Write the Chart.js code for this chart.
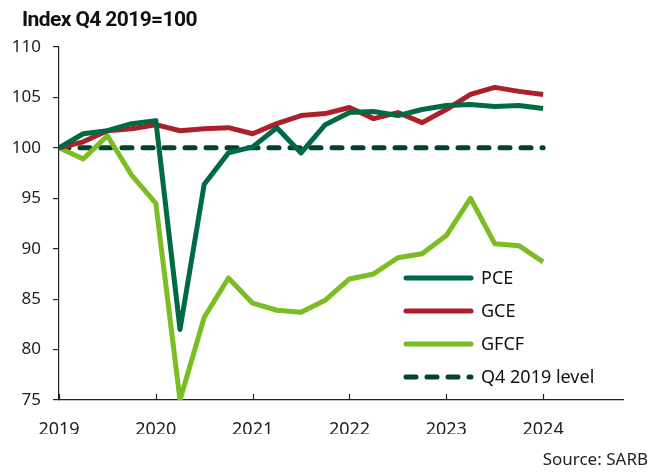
<!DOCTYPE html>
<html>
<head>
<meta charset="utf-8">
<script src="https://cdn.jsdelivr.net/npm/chart.js@4.4.1/dist/chart.umd.min.js"></script>
<style>
  body { margin: 0; background: #fff; }
  #wrap { width: 651px; height: 475px; position: relative; }
</style>
</head>
<body>
<div id="wrap"><canvas id="gdpChart"></canvas></div>
<script>
// quarters, Q4 2019 .. Q4 2024
var quarters = ["2019Q4", "2020Q1", "2020Q2", "2020Q3", "2020Q4", "2021Q1", "2021Q2", "2021Q3", "2021Q4",
    "2022Q1", "2022Q2", "2022Q3", "2022Q4", "2023Q1", "2023Q2", "2023Q3", "2023Q4",
    "2024Q1", "2024Q2", "2024Q3", "2024Q4"];
var yearLabels = ["2019", "2020", "2021", "2022", "2023", "2024"];

var pce  = [100, 101.4, 101.7, 102.4, 102.7, 82.0, 96.4, 99.5, 100.1, 102.0, 99.5, 102.3, 103.5, 103.6, 103.2, 103.8, 104.2, 104.3, 104.1, 104.2, 103.9];
var gce  = [100, 100.6, 101.7, 101.9, 102.3, 101.7, 101.9, 102.0, 101.4, 102.4, 103.2, 103.4, 104.0, 102.9, 103.5, 102.5, 103.8, 105.3, 106.0, 105.6, 105.3];
var gfcf = [100, 98.9, 101.2, 97.3, 94.5, 75.0, 83.2, 87.1, 84.6, 83.9, 83.7, 84.9, 87.0, 87.5, 89.1, 89.5, 91.3, 95.0, 90.5, 90.3, 88.7];
var baseLevel = [100, 100, 100, 100, 100, 100, 100, 100, 100, 100, 100, 100, 100, 100, 100, 100, 100, 100, 100, 100, 100];

var yTicks = [75, 80, 85, 90, 95, 100, 105, 110];

function toPoints(arr) {
    return arr.map(function (v, i) { return { x: i, y: v }; });
}

var textFont = "'Noto Sans', sans-serif";
var axisColor = "#222";

// title, source, legend and inward x ticks
var extras = {
    id: "extras",
    afterDraw: function (chart) {
        var ctx = chart.ctx;
        var area = chart.chartArea;
        var xs = chart.scales.x;

        ctx.save();
        // x axis tick marks pointing up
        ctx.strokeStyle = axisColor;
        ctx.lineWidth = 1.2;
        xs.ticks.forEach(function (t) {
            var px = Math.round(xs.getPixelForValue(t.value)) + 0.5;
            ctx.beginPath();
            ctx.moveTo(px, area.bottom);
            ctx.lineTo(px, area.bottom - 6);
            ctx.stroke();
        });

        // title
        ctx.fillStyle = "#111";
        ctx.font = "bold 21px Roboto";
        ctx.textBaseline = "alphabetic";
        ctx.textAlign = "left";
        if ("letterSpacing" in ctx) ctx.letterSpacing = "-0.6px";
        ctx.fillText("Index Q4 2019=100", 22, 26);
        if ("letterSpacing" in ctx) ctx.letterSpacing = "0px";

        // source
        ctx.font = "17px " + textFont;
        ctx.fillStyle = "#222";
        ctx.textAlign = "right";
        ctx.textBaseline = "middle";
        ctx.fillText("Source: SARB", 648, 460);

        // legend
        var lx = area.left + 347, ly = 278;
        chart.data.datasets.forEach(function (ds, i) {
            var y = ly + i * 33;
            ctx.strokeStyle = ds.borderColor;
            ctx.lineWidth = ds.borderWidth;
            ctx.lineCap = "round";
            ctx.setLineDash(ds.borderDash || []);
            ctx.beginPath();
            ctx.moveTo(lx, y);
            ctx.lineTo(lx + 65, y);
            ctx.stroke();
            ctx.setLineDash([]);
            ctx.fillStyle = "#111";
            ctx.textAlign = "left";
            ctx.font = "18px " + textFont;
            ctx.fillText(ds.label, lx + 75, y + 1);
        });
        ctx.restore();
    }
};

var ctx = document.getElementById("gdpChart").getContext("2d");

var data = {
    labels: quarters,
    datasets: [
        { label: "PCE", data: toPoints(pce), borderColor: "#006a43", borderWidth: 5 },
        { label: "GCE", data: toPoints(gce), borderColor: "#ad1f2b", borderWidth: 5 },
        { label: "GFCF", data: toPoints(gfcf), borderColor: "#7bbd23", borderWidth: 5 },
        { label: "Q4 2019 level", data: toPoints(baseLevel), borderColor: "#00442a", borderWidth: 5,
          borderDash: [10, 11], borderCapStyle: "round" }
    ]
};

var options = {
    responsive: true,
    maintainAspectRatio: false,
    animation: false,
    layout: { padding: { top: 47, right: 28, bottom: 41, left: 0 } },
    elements: {
        point: { radius: 0 },
        line: { tension: 0, borderJoinStyle: "round", borderCapStyle: "butt" }
    },
    scales: {
        x: {
            type: "linear",
            min: 0,
            max: 23.3,
            afterFit: function (scale) { scale.height = 34; },
            grid: { display: false },
            border: { display: true, color: axisColor, width: 1.2 },
            ticks: {
                stepSize: 4,
                includeBounds: false,
                padding: 11,
                color: "#222",
                font: { family: textFont, size: 18 },
                maxRotation: 0,
                callback: function (v) { return yearLabels[v / 4]; }
            }
        },
        y: {
            min: 75,
            max: 110,
            afterFit: function (scale) { scale.width = 59; },
            afterBuildTicks: function (scale) {
                scale.ticks = yTicks.map(function (v) { return { value: v }; });
            },
            grid: { drawOnChartArea: false, tickLength: 6, color: axisColor, lineWidth: 1.2 },
            border: { display: true, color: axisColor, width: 1.2 },
            ticks: {
                padding: 12,
                color: "#222",
                font: { family: textFont, size: 17 }
            }
        }
    },
    plugins: {
        legend: { display: false },
        tooltip: { enabled: false }
    }
};

var lineChart = new Chart(ctx, {
    type: "line",
    data: data,
    options: options,
    plugins: [extras]
});
</script>
</body>
</html>
